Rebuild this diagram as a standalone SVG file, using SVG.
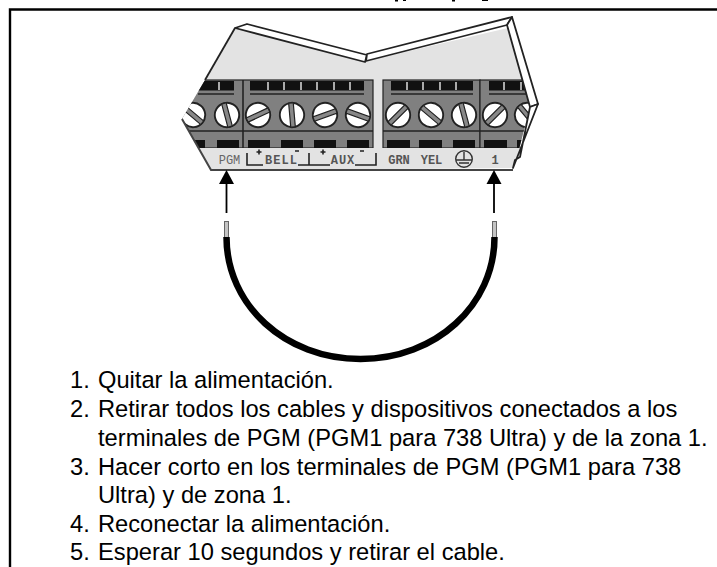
<svg xmlns="http://www.w3.org/2000/svg" xmlns:xlink="http://www.w3.org/1999/xlink" width="717" height="567" viewBox="0 0 717 567">
<style>
.step{font-family:"Liberation Sans",Arial,sans-serif;font-size:23.7px;fill:#000}
.lab{font-family:"Liberation Mono","DejaVu Sans Mono",monospace;font-size:12px;font-weight:bold;fill:#555;text-anchor:middle}
.ln{fill:none;stroke:#222;stroke-width:1.6}
.ol{fill:none;stroke:#222;stroke-width:1.8;stroke-linejoin:round}
.lip{fill:#fff;stroke:#222;stroke-width:1.8;stroke-linejoin:round}
.blk{fill:#808080;stroke:#222;stroke-width:1.2}
.comb{fill:#111}
.tick{fill:#aaa}
.slot{fill:#111}
.wire{fill:none;stroke:#000;stroke-width:6.5}
.tip{fill:#c4c4c4;stroke:#666;stroke-width:1}
.arr{stroke:#000;stroke-width:1.8;fill:none}
</style>
<defs>
<clipPath id="body"><polygon points="235,28 205,80 182,119 211,170 513,168 517,157 530,107 508,28 366,61"/></clipPath>
<g id="screw"><circle r="12.2" fill="#fff" stroke="#222" stroke-width="1.9"/><rect x="-12" y="-2.3" width="24" height="4.6" fill="#888" stroke="#222" stroke-width="1.2"/></g>
</defs>
<rect width="717" height="567" fill="#fff"/>
<g id="marks" fill="#000"><rect x="395" y="0" width="3" height="1.5"/><rect x="403" y="0" width="3" height="1"/><rect x="452" y="0" width="3" height="1.5"/><rect x="482" y="0" width="6" height="1"/></g>
<path id="frame" d="M10 567V9.500H717" fill="none" stroke="#000" stroke-width="2.400"/>
<g id="terminal-block">
<polygon points="235,28 205,80 182,119 211,170 513,168 517,157 530,107 508,28 366,61" fill="#e3e3e3"/>
<g clip-path="url(#body)">
<rect class="blk" x="170" y="80" width="203" height="68"/>
<rect class="blk" x="383" y="80" width="97" height="68"/>
<rect class="blk" x="480" y="80" width="70" height="68"/>
<line x1="243" y1="80" x2="243" y2="148" class="ln"/>
<rect class="comb" x="198" y="81" width="36" height="9.500"/>
<rect class="comb" x="250" y="81" width="114" height="9.500"/>
<rect class="comb" x="391" y="81" width="82" height="9.500"/>
<rect class="comb" x="489" y="81" width="50" height="9.500"/>
<g class="tick"><rect x="218" y="82" width="2" height="8"/><rect x="267" y="82" width="2" height="8"/><rect x="283" y="82" width="2" height="8"/><rect x="300" y="82" width="2" height="8"/><rect x="316" y="82" width="2" height="8"/><rect x="333" y="82" width="2" height="8"/><rect x="349" y="82" width="2" height="8"/><rect x="406" y="82" width="2" height="8"/><rect x="422" y="82" width="2" height="8"/><rect x="439" y="82" width="2" height="8"/><rect x="455" y="82" width="2" height="8"/><rect x="503" y="82" width="2" height="8"/><rect x="520" y="82" width="2" height="8"/></g>
<g stroke="#222" stroke-width="1.400"><line x1="198" y1="94" x2="234" y2="94"/><line x1="250" y1="94" x2="364" y2="94"/><line x1="391" y1="94" x2="473" y2="94"/><line x1="489" y1="94" x2="540" y2="94"/>
<line x1="170" y1="131" x2="373" y2="131"/><line x1="383" y1="131" x2="540" y2="131"/></g>
<use xlink:href="#screw" transform="translate(193,115) rotate(40)"/>
<use xlink:href="#screw" transform="translate(227,115) rotate(75)"/>
<use xlink:href="#screw" transform="translate(258,115) rotate(-25)"/>
<use xlink:href="#screw" transform="translate(292,115) rotate(85)"/>
<use xlink:href="#screw" transform="translate(325,115) rotate(-20)"/>
<use xlink:href="#screw" transform="translate(358,115) rotate(20)"/>
<use xlink:href="#screw" transform="translate(398,115) rotate(-45)"/>
<use xlink:href="#screw" transform="translate(431,115) rotate(40)"/>
<use xlink:href="#screw" transform="translate(464,115) rotate(75)"/>
<use xlink:href="#screw" transform="translate(495,115) rotate(-45)"/>
<use xlink:href="#screw" transform="translate(527,115) rotate(50)"/>
<g class="slot"><rect x="190" y="140" width="15" height="8"/><rect x="217" y="140" width="22" height="8"/><rect x="248" y="140" width="22" height="8"/><rect x="281" y="140" width="22" height="8"/><rect x="314" y="140" width="22" height="8"/><rect x="347" y="140" width="22" height="8"/><rect x="387" y="140" width="23" height="8"/><rect x="419" y="140" width="23" height="8"/><rect x="453" y="140" width="22" height="8"/><rect x="484" y="140" width="23" height="8"/><rect x="517" y="140" width="12" height="8"/></g>
<rect x="170" y="148" width="360" height="22" fill="#e3e3e3"/>
</g>
<polygon class="lip" points="235,28 247,24 367,55 365,62"/>
<polygon class="lip" points="366,61 367,54 512,17 507,25"/>
<polygon class="lip" points="507,25 512,17 538,104 530,107"/>
<polygon class="lip" points="538,104 513,168 515,160 520,157 530,107"/>
<path class="ol" d="M235 28L205 80"/>
<path d="M182 119L211 170H513" fill="none" stroke="#444" stroke-width="2"/>
<path class="ln" d="M247 153V165H263M298 165H330M309 153V165M355 165H376V153"/>
<path class="ln" d="M256.500 152H261.500M259 149.500V154.500M295 151H299M320.500 152H325.500M323 149.500V154.500M360 151H364"/>
<text class="lab" x="229.500" y="164" style="font-weight:normal;fill:#666">PGM</text>
<text class="lab" x="281.500" y="164" letter-spacing="1">BELL</text>
<text class="lab" x="343" y="164" letter-spacing="1">AUX</text>
<text class="lab" x="399" y="164">GRN</text>
<text class="lab" x="431.500" y="164">YEL</text>
<text class="lab" x="495" y="164">1</text>
<g id="ground" fill="none" stroke="#333" stroke-width="1.400"><circle cx="464" cy="159" r="8.300"/><path d="M464 152V160M456 160H472M459 163H469"/></g>
</g>
<g id="jumper">
<rect class="tip" x="224.500" y="221.500" width="4" height="16"/>
<rect class="tip" x="492.500" y="221.500" width="4" height="16"/>
<path class="wire" d="M226.500 237C226.500 305 285 359 360.500 359C436 359 494.500 305 494.500 237"/>
</g>
<g id="connectors">
<path class="arr" d="M226.500 213V182"/>
<polygon points="226.500,170 219,184 234,184" fill="#000"/>
<path class="arr" d="M494 213V182"/>
<polygon points="494,170 486.500,184 501.500,184" fill="#000"/>
</g>
<g id="steps">
<text class="step" x="70" y="388">1.</text><text class="step" x="98" y="388">Quitar la alimentación.</text>
<text class="step" x="70" y="416.500">2.</text><text class="step" x="98" y="416.500">Retirar todos los cables y dispositivos conectados a los</text>
<text class="step" x="98" y="445.500">terminales de PGM (PGM1 para 738 Ultra) y de la zona 1.</text>
<text class="step" x="70" y="474.500">3.</text><text class="step" x="98" y="474.500">Hacer corto en los terminales de PGM (PGM1 para 738</text>
<text class="step" x="98" y="503">Ultra) y de zona 1.</text>
<text class="step" x="70" y="532">4.</text><text class="step" x="98" y="532">Reconectar la alimentación.</text>
<text class="step" x="70" y="560">5.</text><text class="step" x="98" y="560">Esperar 10 segundos y retirar el cable.</text>
</g>
</svg>
